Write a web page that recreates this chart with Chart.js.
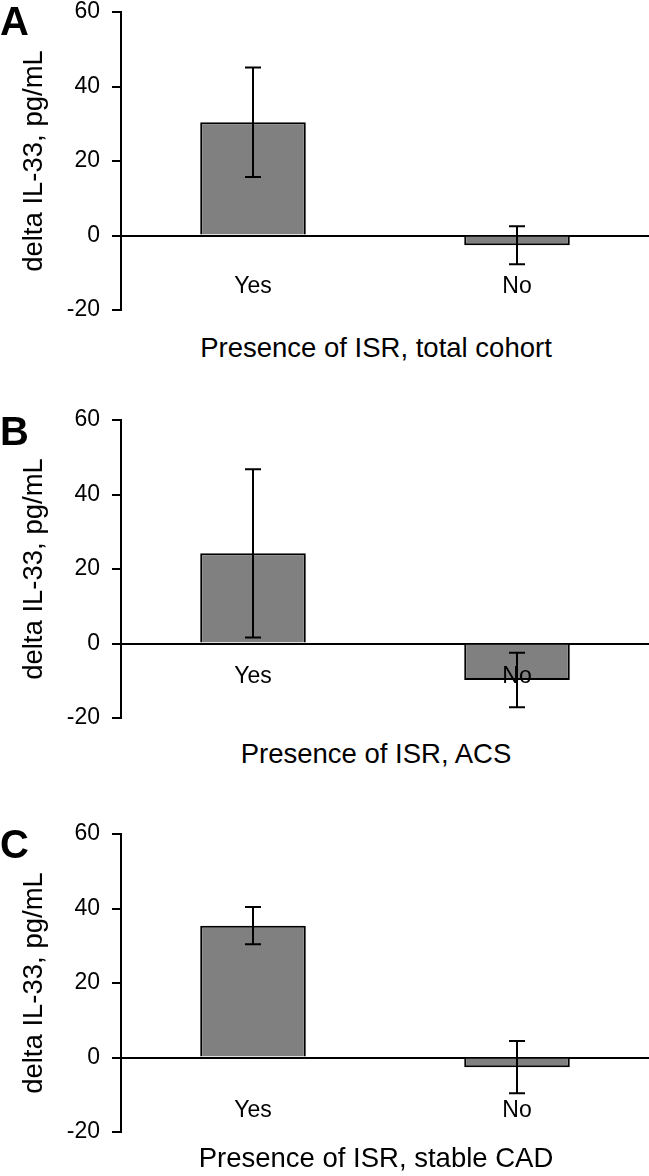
<!DOCTYPE html>
<html lang="en">
<head>
<meta charset="UTF-8" />
<title>delta IL-33 by presence of ISR</title>
<script src="https://cdn.jsdelivr.net/npm/chart.js"></script>
<style>
  * { margin: 0; padding: 0; box-sizing: border-box; }
  body {
    width: 649px;
    height: 1176px;
    background: #fff;
    position: relative;
    overflow: hidden;
    font-family: 'Liberation Sans', Arial, sans-serif;
    color: #000;
  }
  .panel { position: absolute; left: 0; width: 649px; height: 322px; }
  .panel canvas { display: block; }
  .letter {
    position: absolute;
    left: 0;
    font-weight: bold;
    font-size: 40px;
    line-height: 40px;
  }
  /* x titles sit a little left of the plot centre in the original */
  .xtitle {
    position: absolute;
    left: 0;
    width: 752px;
    text-align: center;
    font-size: 27.5px;
    line-height: 27.5px;
    white-space: nowrap;
  }
</style>
</head>
<body>

  <div class="panel" style="top:0px;"><canvas id="chartA"></canvas></div>
  <div class="panel" style="top:408px;"><canvas id="chartB"></canvas></div>
  <div class="panel" style="top:822px;"><canvas id="chartC"></canvas></div>

  <div class="letter" style="top:1px;">A</div>
  <div class="letter" style="top:411px;">B</div>
  <div class="letter" style="top:824px;">C</div>

  <div class="xtitle" id="titleA" style="top:334px;"></div>
  <div class="xtitle" id="titleB" style="top:740px;"></div>
  <div class="xtitle" id="titleC" style="top:1144px;"></div>

<script>
  // data
  const categories = ['Yes', 'No'];
  const yTicks = [-20, 0, 20, 40, 60];
  const yLabel = 'delta IL-33, pg/mL';

  const meansA = [30.4, -2.6];
  const errorsA = [14.7, 5.1];
  const titleA = 'Presence of ISR, total cohort';

  const meansB = [24.2, -9.8];
  const errorsB = [22.6, 7.3];
  const titleB = 'Presence of ISR, ACS';

  const meansC = [35.4, -2.6];
  const errorsC = [5.0, 7.0];
  const titleC = 'Presence of ISR, stable CAD';

  // category names, written under the zero line
  const categoryLabels = {
    id: 'categoryLabels',
    afterDatasetsDraw(chart, args, opts) {
      const ctx = chart.ctx;
      const x = chart.scales.x;
      const y0 = chart.scales.y.getPixelForValue(0);
      ctx.save();
      ctx.fillStyle = '#000';
      ctx.font = '23px "Liberation Sans", Arial, sans-serif';
      ctx.textAlign = 'center';
      ctx.textBaseline = 'alphabetic';
      chart.data.labels.forEach((lab, i) => {
        ctx.fillText(lab, x.getPixelForValue(i), y0 + opts.drop);
      });
      ctx.restore();
    }
  };

  // +/- error whiskers, on top of everything
  const errorBars = {
    id: 'errorBars',
    afterDraw(chart, args, opts) {
      const ctx = chart.ctx;
      const y = chart.scales.y;
      const data = chart.data.datasets[0].data;
      const meta = chart.getDatasetMeta(0);
      ctx.save();
      ctx.strokeStyle = '#000';
      ctx.lineWidth = 2;
      meta.data.forEach((bar, i) => {
        const top = y.getPixelForValue(data[i] + opts.values[i]);
        const bot = y.getPixelForValue(data[i] - opts.values[i]);
        const x = bar.x;
        ctx.beginPath();
        ctx.moveTo(x, top); ctx.lineTo(x, bot);
        ctx.moveTo(x - 8, top); ctx.lineTo(x + 8, top);
        ctx.moveTo(x - 8, bot); ctx.lineTo(x + 8, bot);
        ctx.stroke();
      });
      ctx.restore();
    }
  };

  function makePanel(id, means, errors, title, titleId, labelDrop) {
    document.getElementById(titleId).textContent = title;
    new Chart(document.getElementById(id), {
      type: 'bar',
      data: {
        labels: categories,
        datasets: [{
          data: means,
          backgroundColor: '#808080',
          borderColor: '#000',
          borderWidth: 2,
          barPercentage: 0.4,
          categoryPercentage: 1
        }]
      },
      options: {
        responsive: true,
        maintainAspectRatio: false,
        animation: false,
        layout: { padding: 0 },
        plugins: {
          legend: { display: false },
          tooltip: { enabled: false },
          errorBars: { values: errors },
          categoryLabels: { drop: labelDrop }
        },
        scales: {
          x: { display: false },
          y: {
            min: yTicks[0],
            max: yTicks[yTicks.length - 1],
            afterFit(scale) { scale.width = 121; },
            afterBuildTicks(scale) { scale.ticks = yTicks.map(v => ({ value: v })); },
            ticks: {
              color: '#000',
              padding: 12,
              font: { family: 'Liberation Sans', size: 23, lineHeight: 0 }
            },
            grid: {
              drawOnChartArea: true,
              color: c => (c.tick && c.tick.value === 0) ? '#000' : 'rgba(0,0,0,0)',
              lineWidth: 2,
              tickColor: '#000',
              tickLength: 9,
              tickWidth: 2
            },
            border: { display: true, color: '#000', width: 2 },
            title: {
              display: true,
              text: yLabel,
              color: '#000',
              font: { family: 'Liberation Sans', size: 27.5, lineHeight: 1.2 },
              padding: { top: 17.5, bottom: 0 }
            }
          }
        }
      },
      plugins: [categoryLabels, errorBars]
    });
  }

  makePanel('chartA', meansA, errorsA, titleA, 'titleA', 57.5);
  makePanel('chartB', meansB, errorsB, titleB, 'titleB', 39);
  makePanel('chartC', meansC, errorsC, titleC, 'titleC', 59);
</script>
</body>
</html>
